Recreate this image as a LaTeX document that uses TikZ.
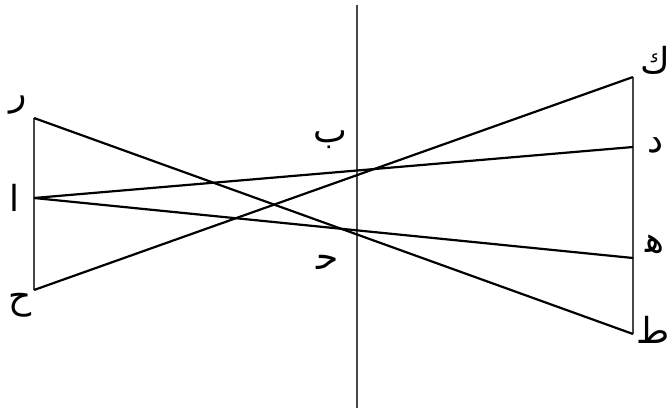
\documentclass[tikz,border=0pt]{standalone}
\usepackage{fontspec}
\newfontfamily\arabicfont[Script=Arabic]{DejaVu Sans}
\TeXXeTstate=1
\begin{document}
\begin{tikzpicture}[x=1bp,y=1bp,
  ln/.style={line width=2.2bp,black},
  vl/.style={line width=2.4bp,black!72},
  lbl/.style={font=\arabicfont\fontsize{36}{36}\selectfont,inner sep=0pt}]
\useasboundingbox (0,0) rectangle (672,408);
% points (y = 408 - pixel y)
\coordinate (Z) at (34,290);   % ز
\coordinate (A) at (34,210);   % ا
\coordinate (H) at (34,118);   % ح
\coordinate (K) at (633,331);  % ك
\coordinate (D) at (633,261);  % د
\coordinate (E) at (633,150);  % ه
\coordinate (T) at (633,74);   % ط
\coordinate (Mt) at (357,403);
\coordinate (Mb) at (357,0);
% vertical lines
\draw[vl] (Z) -- (H);
\draw[vl] (K) -- (T);
\draw[vl] (Mt) -- (Mb);
% crossing lines
\draw[ln] (Z) -- (T);
\draw[ln] (H) -- (K);
\draw[ln] (A) -- (D);
\draw[ln] (A) -- (E);
% labels
\node[lbl] (lz) at (18,303) {\beginR ر\endR};
\node[lbl] (la) at (14,210) {\beginR ا\endR};
\node[lbl] (lh) at (20,103) {\beginR ح\endR};
\node[lbl] (lb) at (330,268) {\beginR ب\endR};
\node[lbl] (lj) at (328,146) {\beginR ﺣ\endR};
\node[lbl] (lk) at (655,348) {\beginR ك\endR};
\node[lbl] (ld) at (655,263) {\beginR د\endR};
\node[lbl] (le) at (655,164) {\beginR ﻫ\endR};
\node[lbl] (lt) at (653,78) {\beginR ط\endR};
\end{tikzpicture}
\end{document}
